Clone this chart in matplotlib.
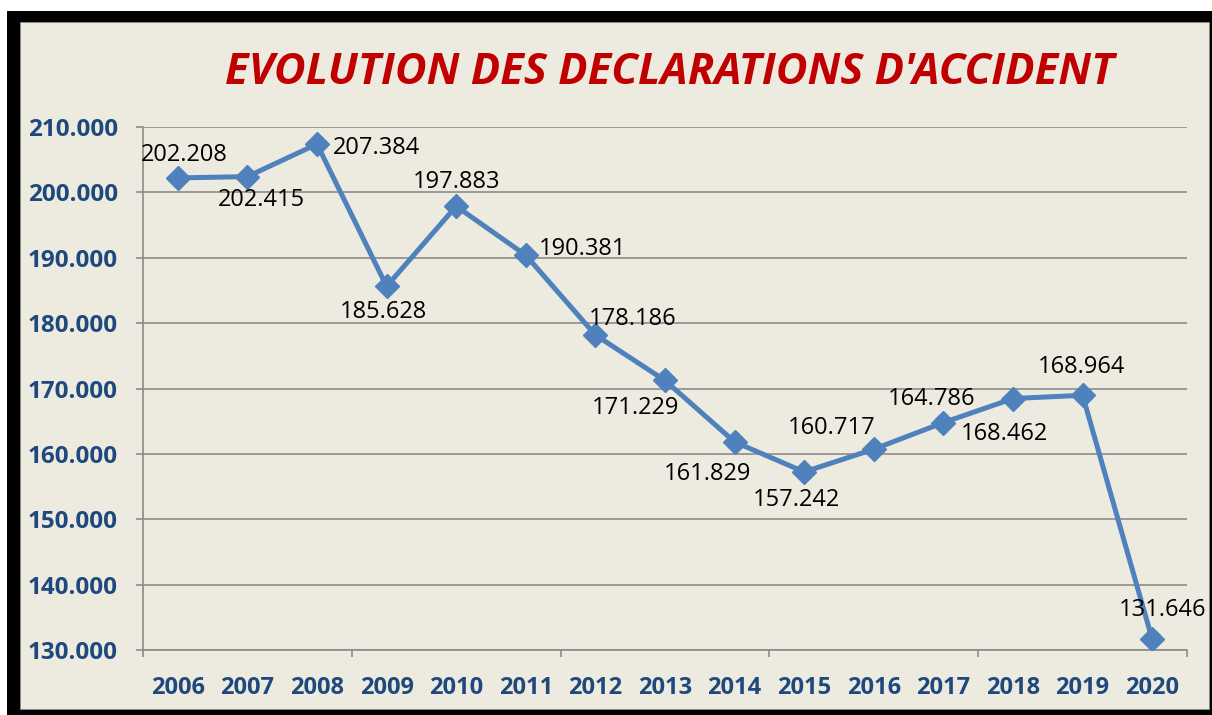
import matplotlib.pyplot as plt
from matplotlib.patches import Rectangle
from matplotlib.ticker import FuncFormatter, FixedLocator

years = ['2006', '2007', '2008', '2009', '2010', '2011', '2012', '2013',
         '2014', '2015', '2016', '2017', '2018', '2019', '2020']
declarations = [202208, 202415, 207384, 185628, 197883, 190381, 178186, 171229,
                161829, 157242, 160717, 164786, 168462, 168964, 131646]

# where each value label sits relative to its point (pixels, x right / y up)
label_offsets = [(7, 23), (14, -23), (59, -4), (-3, -26), (0, 24), (57, 6),
                 (37, 16), (-29, -28), (-27, -32), (-8, -28), (-42, 21),
                 (-12, 24), (-9, -35), (-1, 28), (10, 29)]

plt.rcParams['font.family'] = ['Open Sans', 'DejaVu Sans']

W, H = 1212, 715
fig = plt.figure(figsize=(W / 100, H / 100), dpi=100)
fig.patch.set_facecolor('white')

# black frame and beige panel
fig.patches.append(Rectangle((7 / W, -0.05), 1.1, (704) / H + 0.05,
                             transform=fig.transFigure, facecolor='black',
                             edgecolor='none', zorder=-2))
fig.patches.append(Rectangle((20 / W, 6 / H), (1209 - 20) / W, (693 - 6) / H,
                             transform=fig.transFigure, facecolor='#EDEBE0',
                             edgecolor='#8C8C8C', linewidth=0.6, zorder=-1))

ax = fig.add_axes([143 / W, 65 / H, 1044 / W, 523 / H])
ax.set_facecolor('none')

x = list(range(len(years)))
ax.plot(x, declarations, color='#4F81BD', linewidth=3.6, marker='D',
        markersize=12.5, markeredgewidth=1, markeredgecolor='#4F81BD',
        solid_joinstyle='miter', zorder=3)

for xi, v, (dx, dy) in zip(x, declarations, label_offsets):
    txt = f'{v:,}'.replace(',', '.')
    ax.annotate(txt, (xi, v), xytext=(dx, dy), textcoords='offset pixels',
                ha='center', va='center', fontsize=17, color='black', zorder=4)

ax.set_xlim(-0.5, len(years) - 0.5)
ax.set_ylim(130000, 210000)
ax.set_yticks(range(130000, 210001, 10000))
ax.yaxis.set_major_formatter(FuncFormatter(lambda v, p: f'{int(v):,}'.replace(',', '.')))
ax.set_xticks(x)
ax.set_xticklabels(years)
ax.xaxis.set_minor_locator(FixedLocator([-0.5, 2.5, 5.5, 8.5, 11.5, 14.5]))

ax.grid(axis='y', color='#8C8C8C', linewidth=1.2)
ax.set_axisbelow(True)
for s in ['top', 'right']:
    ax.spines[s].set_visible(False)
for s in ['left', 'bottom']:
    ax.spines[s].set_color('#8C8C8C')
    ax.spines[s].set_linewidth(1.2)

ax.tick_params(axis='y', length=5, width=1.2, color='#8C8C8C', pad=13,
               labelsize=17.5, labelcolor='#1F497D')
ax.tick_params(axis='x', which='major', length=0, pad=19,
               labelsize=17, labelcolor='#1F497D')
ax.tick_params(axis='x', which='minor', length=5, width=1.2, color='#8C8C8C')
for lab in ax.get_xticklabels() + ax.get_yticklabels():
    lab.set_fontweight('bold')

fig.text(670 / W, 1 - 73 / H, "EVOLUTION DES DECLARATIONS D'ACCIDENT",
         ha='center', va='center', fontsize=31.3, fontweight='bold',
         fontstyle='italic', color='#C00000')

fig.savefig('out.png', dpi=100)
